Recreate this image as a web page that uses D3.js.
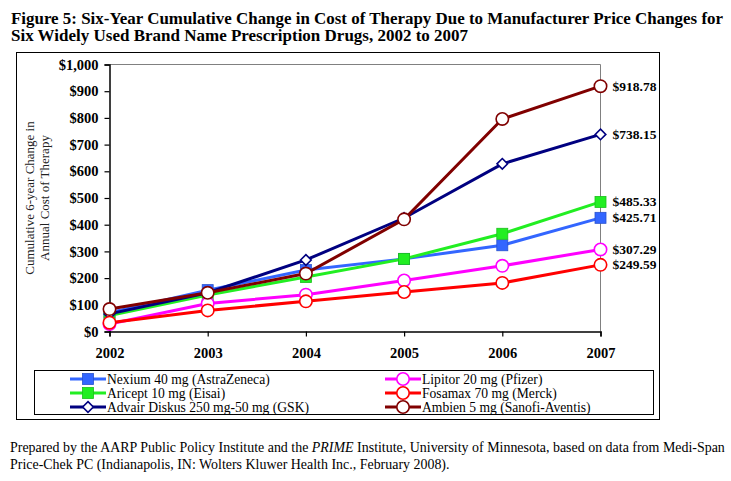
<!DOCTYPE html>
<html>
<head>
<meta charset="utf-8">
<script src="https://cdn.jsdelivr.net/npm/d3@7"></script>
<style>
  body { margin: 0; background: #fff; }
  text { font-family: "Liberation Serif", "Times New Roman", serif; }
</style>
</head>
<body>
<div id="chart"></div>
<script>
const years = ["2002", "2003", "2004", "2005", "2006", "2007"];
const yTicks = [0, 100, 200, 300, 400, 500, 600, 700, 800, 900, 1000];

const drugs = [
  "Nexium 40 mg (AstraZeneca)",
  "Aricept 10 mg (Eisai)",
  "Advair Diskus 250 mg-50 mg (GSK)",
  "Lipitor 20 mg (Pfizer)",
  "Fosamax 70 mg (Merck)",
  "Ambien 5 mg (Sanofi-Aventis)"
];

const nexium = [70, 155, 230, 272, 323, 425.71];
const aricept = [60, 137, 204, 272, 366, 485.33];
const advair = [66, 145, 268, 425, 628, 738.15];
const lipitor = [28, 105, 138, 191, 246, 307.29];
const fosamax = [33, 79, 113, 148, 182, 249.59];
const ambien = [84, 145, 217, 420, 796, 918.78];

const endLabels = ["$425.71", "$485.33", "$738.15", "$307.29", "$249.59", "$918.78"];

const colors = ["#3366ff", "#22ee22", "#000080", "#ff00ff", "#ff0000", "#800000"];
const markers = ["square", "square", "diamond", "circle", "circle", "circle"];

const series = [nexium, aricept, advair, lipitor, fosamax, ambien].map((v, i) => ({
  name: drugs[i], values: v, color: colors[i], marker: markers[i], label: endLabels[i]
}));

const width = 731, height = 481;
const svg = d3.select("#chart").append("svg")
  .attr("width", width).attr("height", height)
  .attr("font-family", "Liberation Serif, serif");

// title
const title = svg.append("text").style("font-size", "17px").style("font-weight", "bold");
title.append("tspan").attr("x", 11).attr("y", 23.5)
  .attr("textLength", 712).attr("lengthAdjust", "spacingAndGlyphs")
  .text("Figure 5:  Six-Year Cumulative Change in Cost of Therapy Due to Manufacturer Price Changes for");
title.append("tspan").attr("x", 11).attr("y", 41)
  .text("Six Widely Used Brand Name Prescription Drugs, 2002 to 2007");

// outer frame
svg.append("rect").attr("x", 16.5).attr("y", 52.5).attr("width", 643).attr("height", 367)
  .attr("fill", "none").attr("stroke", "#000");

const plot = { left: 109.5, right: 600.5, top: 64.5, bottom: 331.5 };

const x = d3.scalePoint().domain(years).range([plot.left, plot.right]);
const y = d3.scaleLinear().domain([0, 1000]).range([plot.bottom, plot.top]);

// top / right border of plot area
svg.append("path")
  .attr("d", `M${plot.left},${plot.top}H${plot.right}V${plot.bottom}`)
  .attr("fill", "none").attr("stroke", "#808080");

const yAxis = svg.append("g").attr("transform", `translate(${plot.left},0)`)
  .call(d3.axisLeft(y).tickValues(yTicks).tickSize(5).tickPadding(6)
    .tickFormat(d => "$" + d3.format(",")(d)));
const xAxis = svg.append("g").attr("transform", `translate(0,${plot.bottom})`)
  .call(d3.axisBottom(x).tickSize(5).tickPadding(11));

[yAxis, xAxis].forEach(g => {
  g.attr("font-family", null);
  g.select(".domain").attr("stroke", "#000").attr("stroke-width", 1.5);
  g.selectAll(".tick line").attr("stroke", "#000").attr("stroke-width", 1.2);
  g.selectAll("text").style("font-size", "14.5px").style("font-weight", "bold").attr("fill", "#000");
});

// y axis title
const yt = svg.append("text")
  .attr("transform", `translate(34,${(plot.top + plot.bottom) / 2}) rotate(-90)`)
  .attr("text-anchor", "middle").style("font-size", "13px").attr("fill", "#222");
yt.append("tspan").attr("x", 0).attr("y", 0).text("Cumulative 6-year Change in");
yt.append("tspan").attr("x", 0).attr("y", 15).text("Annual Cost of Therapy");

const line = d3.line().x((d, i) => x(years[i])).y(d => y(d));

function drawMarker(g, type, color, cx, cy) {
  if (type === "square") {
    g.append("rect").attr("x", cx - 5.5).attr("y", cy - 5.5).attr("width", 11).attr("height", 11)
      .attr("fill", color).attr("stroke", d3.color(color).darker(0.6)).attr("stroke-width", 0.8);
  } else if (type === "diamond") {
    g.append("path").attr("d", d3.symbol(d3.symbolDiamond2, 72)())
      .attr("transform", `translate(${cx},${cy})`)
      .attr("fill", "#fff").attr("stroke", color).attr("stroke-width", 1.6);
  } else {
    g.append("circle").attr("cx", cx).attr("cy", cy).attr("r", 6.2)
      .attr("fill", "#fff").attr("stroke", color).attr("stroke-width", 1.6);
  }
}

series.forEach(s => {
  const g = svg.append("g");
  g.append("path").attr("d", line(s.values)).attr("fill", "none")
    .attr("stroke", s.color).attr("stroke-width", 3);
  s.values.forEach((v, i) => drawMarker(g, s.marker, s.color, x(years[i]), y(v)));
  svg.append("text").attr("x", x(years[5]) + 12).attr("y", y(s.values[5]) + 4.5)
    .style("font-size", "13.5px").style("font-weight", "bold").text(s.label);
});

// legend
svg.append("rect").attr("x", 34.5).attr("y", 370.5).attr("width", 619).attr("height", 44)
  .attr("fill", "#fff").attr("stroke", "#000");

series.forEach((s, i) => {
  const col = Math.floor(i / 3), row = i % 3;
  const lx = col === 0 ? 70 : 385;
  const ly = 379 + row * 14;
  const g = svg.append("g");
  g.append("line").attr("x1", lx).attr("x2", lx + 36).attr("y1", ly).attr("y2", ly)
    .attr("stroke", s.color).attr("stroke-width", 3);
  drawMarker(g, s.marker, s.color, lx + 18, ly);
  g.append("text").attr("x", lx + 37).attr("y", ly + 4.5)
    .style("font-size", "13.6px").text(s.name);
});

// footnote
const fn = svg.append("text").style("font-size", "13.95px");
const l1 = fn.append("tspan").attr("x", 10).attr("y", 452);
l1.append("tspan").text("Prepared by the AARP Public Policy Institute and the ");
l1.append("tspan").style("font-style", "italic").text("PRIME");
l1.append("tspan").text(" Institute, University of Minnesota, based on data from Medi-Span");
fn.append("tspan").attr("x", 10).attr("y", 469)
  .text("Price-Chek PC (Indianapolis, IN: Wolters Kluwer Health Inc., February 2008).");
</script>
</body>
</html>
